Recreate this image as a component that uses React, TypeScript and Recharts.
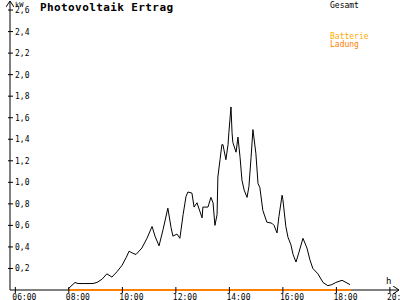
import { ComposedChart, Line, XAxis, YAxis } from 'recharts'

// PV yield for the day, kW
const hours = [
  7.97, 8.23, 8.34, 8.57, 8.9, 9.05, 9.24, 9.42, 9.61, 9.8, 9.99, 10.14, 10.25, 10.4, 10.51,
  10.73, 10.92, 11.11, 11.22, 11.37, 11.52, 11.7, 11.82, 11.89, 12.04, 12.15, 12.27, 12.38,
  12.45, 12.6, 12.68, 12.79, 12.98, 13.01, 13.2, 13.31, 13.39, 13.46, 13.54, 13.57, 13.65,
  13.72, 13.76, 13.87, 13.95, 13.98, 14.06, 14.1, 14.13, 14.25, 14.32, 14.4, 14.47, 14.55,
  14.66, 14.73, 14.81, 14.88, 14.99, 15.07, 15.14, 15.25, 15.4, 15.59, 15.67, 15.78, 15.85,
  15.97, 16.0, 16.11, 16.19, 16.3, 16.38, 16.49, 16.6, 16.75, 16.9, 17.01, 17.12, 17.31,
  17.5, 17.68, 17.83, 17.98, 18.21, 18.36, 18.51,
]
const gesamt = [
  0.01, 0.07, 0.06, 0.06, 0.06, 0.07, 0.1, 0.15, 0.12, 0.17, 0.23, 0.3, 0.36, 0.34, 0.33,
  0.39, 0.48, 0.59, 0.5, 0.41, 0.56, 0.76, 0.58, 0.5, 0.52, 0.48, 0.7, 0.87,
  0.91, 0.9, 0.77, 0.81, 0.67, 0.77, 0.77, 0.86, 0.81, 0.6, 0.7, 1.05, 1.21,
  1.35, 1.35, 1.21, 1.35, 1.46, 1.7, 1.46, 1.37, 1.28, 1.42, 1.23, 1.02, 0.93,
  0.86, 0.96, 1.23, 1.49, 1.27, 0.99, 0.95, 0.74, 0.63, 0.62, 0.6, 0.53, 0.68,
  0.88, 0.84, 0.59, 0.49, 0.42, 0.33, 0.26, 0.35, 0.48, 0.39, 0.28, 0.2, 0.15,
  0.07, 0.04, 0.05, 0.07, 0.09, 0.07, 0.05,
]

// battery charging stays at zero all day
const ladungHours = [8.0, 18.55]
const ladung = [0, 0]

const xTicks = [6, 8, 10, 12, 14, 16, 18, 20]
const xTickLabels = ['06:00', '08:00', '10:00', '12:00', '14:00', '16:00', '18:00', '20:00']
const yTicks = [0.2, 0.4, 0.6, 0.8, 1.0, 1.2, 1.4, 1.6, 1.8, 2.0, 2.2, 2.4, 2.6]
const yTickLabels = ['0,2', '0,4', '0,6', '0,8', '1,0', '1,2', '1,4', '1,6', '1,8', '2,0', '2,2', '2,4', '2,6']

const title = 'Photovoltaik Ertrag'
const legendNames = ['Gesamt', 'Batterie', 'Ladung']
const legendColors = ['#000000', '#ffaa00', '#ff8000']

const mono = '"DejaVu Sans Mono", monospace'

const gesamtData = hours.map((t, i) => ({ t, v: gesamt[i] }))
const ladungData = ladungHours.map((t, i) => ({ t, v: ladung[i] }))

function YTick({ x, y, payload }: any) {
  const i = yTicks.indexOf(payload.value)
  return (
    <g>
      <line x1={x - 2} x2={x + 3} y1={y} y2={y} stroke="#000" />
      <text x={x + 5} y={y + 3} fontSize={8} fontFamily={mono} fill="#000">
        {yTickLabels[i]}
      </text>
    </g>
  )
}

function XTick({ x, y, payload }: any) {
  const i = xTicks.indexOf(payload.value)
  return (
    <g>
      <line x1={x} x2={x} y1={y - 3} y2={y + 3} stroke="#000" />
      <text x={x - 3} y={y + 9.5} fontSize={8} fontFamily={mono} fill="#000">
        {xTickLabels[i]}
      </text>
    </g>
  )
}

export default function App() {
  return (
    <div style={{ position: 'fixed', left: 0, top: 0, background: '#fff' }}>
      <ComposedChart width={400} height={300} margin={{ top: 1, right: 1, left: 0, bottom: 0 }}>
        <defs>
          <marker id="arr" viewBox="0 0 6 8" refX={6} refY={4} markerWidth={6} markerHeight={8}
            markerUnits="userSpaceOnUse" orient="auto-start-reverse">
            <path d="M0,0 L6,4 L0,8" fill="none" stroke="#000" />
          </marker>
        </defs>
        <XAxis
          type="number"
          dataKey="t"
          domain={[5.8, 20.34]}
          ticks={xTicks}
          interval={0}
          tick={<XTick />}
          tickSize={0}
          tickMargin={0}
          tickLine={false}
          height={10}
          axisLine={{ stroke: '#000', markerEnd: 'url(#arr)' }}
        />
        <YAxis
          type="number"
          domain={[0, 2.684]}
          ticks={yTicks}
          interval={0}
          tick={<YTick />}
          tickSize={0}
          tickMargin={0}
          tickLine={false}
          width={10}
          axisLine={{ stroke: '#000', markerStart: 'url(#arr)' }}
        />
        <Line data={gesamtData} dataKey="v" stroke="#000" strokeWidth={1} dot={false}
          type="linear" isAnimationActive={false} />
        <Line data={ladungData} dataKey="v" stroke={legendColors[2]} strokeWidth={2} dot={false}
          type="linear" isAnimationActive={false} zIndex={1000} />
        <text x={40} y={10.5} fontSize={11} fontWeight="bold" letterSpacing={0.4} fontFamily={mono} fill="#000">
          {title}
        </text>
        <text x={15} y={7} fontSize={7} fontFamily={mono} fill="#000">kW</text>
        <text x={386} y={284} fontSize={9} fontFamily={mono} fill="#000">h</text>
        <text x={330} y={7.5} fontSize={8} fontFamily={mono} fill={legendColors[0]}>{legendNames[0]}</text>
        <text x={330} y={38.5} fontSize={8} fontFamily={mono} fill={legendColors[1]}>{legendNames[1]}</text>
        <text x={330} y={46.5} fontSize={8} fontFamily={mono} fill={legendColors[2]}>{legendNames[2]}</text>
      </ComposedChart>
    </div>
  )
}
